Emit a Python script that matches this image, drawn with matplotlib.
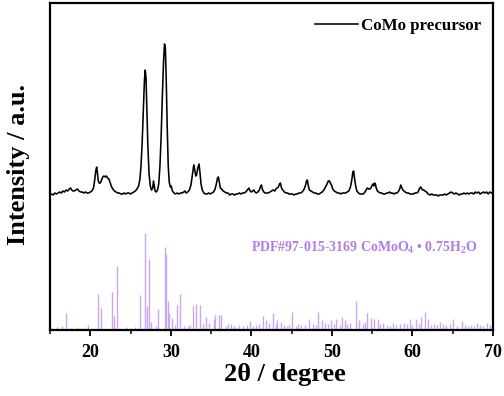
import numpy as np
import matplotlib
matplotlib.use("Agg")
import matplotlib.pyplot as plt
from matplotlib.ticker import MultipleLocator

plt.rcParams["font.family"] = ["Liberation Serif", "DejaVu Serif"]
plt.rcParams["font.weight"] = "bold"
plt.rcParams["mathtext.fontset"] = "custom"
plt.rcParams["mathtext.rm"] = "Liberation Serif:bold"
plt.rcParams["mathtext.bf"] = "Liberation Serif:bold"
plt.rcParams["mathtext.default"] = "rm"

# Measured XRD pattern of the CoMo precursor (2theta in degrees, intensity in a.u.)
xrd_2theta = [
    15.0, 15.2, 15.4, 15.6, 15.8, 16.0, 16.2, 16.4, 16.6, 16.8, 17.0, 17.2, 17.4, 17.55, 17.7, 17.85,
    18.0, 18.2, 18.4, 18.6, 18.8, 19.0, 19.2, 19.4, 19.6, 19.8, 20.0, 20.2, 20.4, 20.55, 20.7, 20.8,
    20.9, 21.0, 21.1, 21.25, 21.4, 21.55, 21.7, 21.85, 22.0, 22.15, 22.3, 22.45, 22.6, 22.8, 23.0, 23.2,
    23.4, 23.6, 23.8, 24.0, 24.2, 24.4, 24.6, 24.8, 25.0, 25.2, 25.4, 25.6, 25.8, 26.0, 26.15, 26.3,
    26.45, 26.6, 26.72, 26.82, 26.92, 27.02, 27.15, 27.3, 27.45, 27.6, 27.75, 27.85, 27.95, 28.05, 28.2, 28.35,
    28.5, 28.65, 28.8, 28.95, 29.1, 29.22, 29.32, 29.42, 29.55, 29.68, 29.8, 29.95, 30.05, 30.2, 30.4, 30.6,
    30.8, 31.0, 31.2, 31.4, 31.6, 31.75, 31.9, 32.1, 32.3, 32.5, 32.7, 32.85, 32.95, 33.1, 33.2, 33.35,
    33.5, 33.6, 33.75, 33.9, 34.1, 34.3, 34.5, 34.7, 34.9, 35.1, 35.3, 35.5, 35.65, 35.8, 35.9, 36.0,
    36.15, 36.3, 36.5, 36.7, 36.9, 37.1, 37.3, 37.5, 37.7, 37.9, 38.1, 38.3, 38.5, 38.7, 38.9, 39.1,
    39.3, 39.5, 39.7, 39.85, 40.0, 40.15, 40.3, 40.45, 40.6, 40.8, 41.0, 41.15, 41.25, 41.4, 41.55, 41.7,
    41.9, 42.1, 42.3, 42.5, 42.7, 42.9, 43.05, 43.2, 43.35, 43.5, 43.6, 43.75, 43.9, 44.1, 44.3, 44.5,
    44.7, 44.9, 45.1, 45.3, 45.5, 45.7, 45.9, 46.1, 46.3, 46.5, 46.7, 46.85, 46.95, 47.05, 47.2, 47.4,
    47.6, 47.8, 48.0, 48.2, 48.4, 48.6, 48.8, 49.0, 49.2, 49.4, 49.55, 49.7, 49.8, 49.95, 50.1, 50.3,
    50.5, 50.7, 50.9, 51.1, 51.3, 51.5, 51.7, 51.9, 52.1, 52.3, 52.45, 52.6, 52.7, 52.8, 52.95, 53.1,
    53.3, 53.5, 53.7, 53.9, 54.1, 54.25, 54.4, 54.55, 54.7, 54.85, 55.0, 55.1, 55.2, 55.3, 55.4, 55.5,
    55.65, 55.8, 56.0, 56.2, 56.4, 56.6, 56.8, 57.0, 57.15, 57.3, 57.5, 57.7, 57.9, 58.1, 58.3, 58.45,
    58.55, 58.65, 58.8, 58.95, 59.1, 59.3, 59.5, 59.7, 59.9, 60.1, 60.3, 60.5, 60.7, 60.85, 61.0, 61.1,
    61.25, 61.4, 61.55, 61.75, 61.95, 62.2, 62.4, 62.6, 62.8, 63.0, 63.2, 63.4, 63.6, 63.8, 64.0, 64.2,
    64.4, 64.6, 64.8, 65.0, 65.2, 65.4, 65.6, 65.8, 66.0, 66.2, 66.4, 66.6, 66.8, 67.0, 67.2, 67.4,
    67.6, 67.8, 68.0, 68.2, 68.4, 68.6, 68.8, 69.0, 69.2, 69.4, 69.6, 69.8, 70.0,
]
xrd_counts = [
    1, 2, 1, 3, 2, 3, 4, 3, 5, 4, 6, 5, 7, 8, 6, 5,
    5, 6, 7, 5, 4, 4, 3, 4, 3, 3, 4, 5, 8, 16, 26, 29,
    22, 15, 13, 13, 16, 19, 20, 19, 20, 18, 17, 14, 10, 7, 5, 4,
    3, 3, 2, 2, 3, 2, 3, 3, 2, 3, 4, 5, 7, 10, 16, 30,
    55, 90, 115, 126, 118, 90, 50, 22, 10, 6, 8, 15, 10, 5, 4, 6,
    12, 30, 60, 100, 135, 152, 148, 120, 70, 30, 14, 9, 10, 5, 3, 2,
    3, 2, 3, 3, 4, 5, 3, 4, 6, 11, 22, 31, 27, 20, 21, 28,
    32, 25, 12, 6, 3, 2, 2, 3, 2, 3, 4, 7, 12, 18, 19, 15,
    8, 7, 5, 4, 3, 3, 1, 2, 2, 1, 2, 2, 3, 2, 3, 3,
    4, 6, 8, 5, 4, 5, 6, 4, 3, 4, 6, 10, 11, 6, 4, 3,
    3, 3, 4, 5, 6, 5, 7, 8, 9, 12, 13, 8, 6, 4, 3, 3,
    2, 2, 2, 1, 2, 2, 3, 3, 4, 6, 10, 15, 16, 11, 6, 5,
    4, 3, 3, 2, 2, 3, 4, 6, 9, 12, 15, 15, 13, 11, 7, 5,
    4, 3, 3, 2, 3, 3, 3, 4, 5, 9, 15, 24, 25, 18, 10, 5,
    3, 2, 2, 2, 4, 6, 8, 7, 7, 8, 11, 12, 10, 13, 12, 8,
    5, 4, 3, 3, 2, 2, 3, 3, 4, 3, 3, 2, 3, 3, 5, 8,
    11, 9, 6, 5, 4, 3, 3, 2, 2, 2, 3, 3, 4, 7, 9, 8,
    6, 6, 5, 4, 2, 1, 2, 1, 1, 1, 0, 1, 1, 1, 2, 1,
    2, 3, 4, 3, 2, 3, 2, 1, 2, 2, 3, 2, 3, 2, 3, 3,
    2, 4, 3, 4, 2, 3, 4, 3, 4, 2, 4, 3, 3,
]

# Reference pattern PDF#97-015-3169 (CoMoO4 . 0.75H2O) line positions and intensities
ref_2theta = [
    16.5, 16.97, 18.4, 19.7, 20.95, 21.3, 22.65, 22.9, 23.35, 24.5, 26.2, 26.8, 27.1, 27.35, 27.55, 28.45,
    29.25, 29.45, 29.6, 29.8, 30.2, 30.8, 31.1, 32.1, 32.8, 33.15, 33.65, 34.4, 34.8, 35.35, 35.5, 35.96,
    36.25, 37.1, 37.5, 38.5, 39.8, 40.2, 41.4, 41.85, 42.7, 43.2, 43.7, 45.0, 46.2, 47.15, 48.3, 48.8,
    49.9, 50.55, 51.2, 51.6, 52.95, 53.4, 54.4, 54.8, 55.2, 55.7, 56.35, 57.6, 58.4, 59.7, 60.4, 61.05,
    61.55, 61.9, 63.4, 65.05, 66.1, 68.0, 69.2,
    15.3, 15.9, 17.5, 19.0, 25.0, 25.5, 28.1, 30.5, 31.6, 32.4, 34.0, 36.8, 37.8, 38.1, 38.9, 39.4,
    40.6, 40.9, 42.2, 43.0, 44.0, 44.4, 44.7, 45.5, 45.8, 46.6, 47.6, 48.0, 49.2, 49.5, 50.2, 51.0,
    51.9, 52.3, 53.8, 54.1, 56.0, 56.8, 57.2, 58.0, 58.9, 59.3, 60.0, 60.8, 62.3, 62.7, 63.0, 63.8,
    64.2, 64.6, 65.5, 66.5, 66.9, 67.3, 67.7, 68.4, 68.8, 69.6,
]
ref_intensity = [
    4, 17, 3, 5, 36, 22, 38, 14, 64, 3, 35, 97, 24, 71, 8, 21,
    83, 76, 29, 17, 12, 25, 36, 4, 24, 26, 25, 13, 7, 11, 15, 15,
    15, 6, 6, 5, 9, 4, 14, 10, 17, 10, 8, 18, 5, 11, 18, 10,
    10, 11, 13, 10, 29, 10, 17, 12, 11, 11, 7, 7, 6, 11, 11, 13,
    18, 11, 8, 11, 9, 7, 7,
    2, 3, 2, 2, 2, 3, 4, 5, 4, 5, 6, 4, 4, 3, 4, 5,
    5, 6, 7, 6, 5, 4, 5, 4, 6, 5, 6, 5, 7, 6, 6, 5,
    6, 7, 6, 8, 6, 5, 4, 5, 7, 6, 5, 6, 5, 6, 5, 6,
    5, 6, 4, 5, 4, 5, 4, 5, 4, 5,
]

sample_label = "CoMo precursor"
ref_label = "PDF#97-015-3169 CoMoO$_4$ \u2022 0.75H$_2$O"
curve_offset = 134

purple = "#b07be8"
stick_color = "#cba6f3"

fig = plt.figure(figsize=(5.04, 3.96), dpi=100)
ax = fig.add_axes([50 / 504, 66 / 396, 443 / 504, 327 / 396])

ax.vlines(ref_2theta, 0, ref_intensity, colors=stick_color, linewidth=1.0)
ax.plot(xrd_2theta, np.array(xrd_counts) + curve_offset, color="black",
        linewidth=1.15, label=sample_label)

ax.set_xlim(15, 70)
ax.set_ylim(0, 327)
ax.xaxis.set_major_locator(MultipleLocator(10))
ax.xaxis.set_minor_locator(MultipleLocator(5))
ax.set_yticks([])
ax.tick_params(axis="x", which="major", direction="out", length=4, width=1.3,
               labelsize=13, pad=6)
ax.tick_params(axis="x", which="minor", direction="out", length=3, width=1.1)
for lab in ax.get_xticklabels():
    lab.set_fontweight("bold")
for sp in ax.spines.values():
    sp.set_linewidth(1.6)

ax.set_xlabel("2\u03b8 / degree", fontsize=19, fontweight="bold")
ax.xaxis.set_label_coords(0.53, -0.1)
ax.set_ylabel("Intensity / a.u.", fontsize=19, fontweight="bold")
ax.yaxis.set_label_coords(-0.045, 0.505)

ax.legend(loc="upper right", frameon=False, handlelength=2.5, handletextpad=0.2,
          borderaxespad=0.3, bbox_to_anchor=(1.0, 0.99),
          prop={"family": "Liberation Serif", "weight": "bold", "size": 12.2})

ax.text(0.966, 0.25, ref_label, transform=ax.transAxes, ha="right", va="center",
        color=purple, fontsize=10, fontweight="bold")

fig.savefig("out.png", dpi=100)
